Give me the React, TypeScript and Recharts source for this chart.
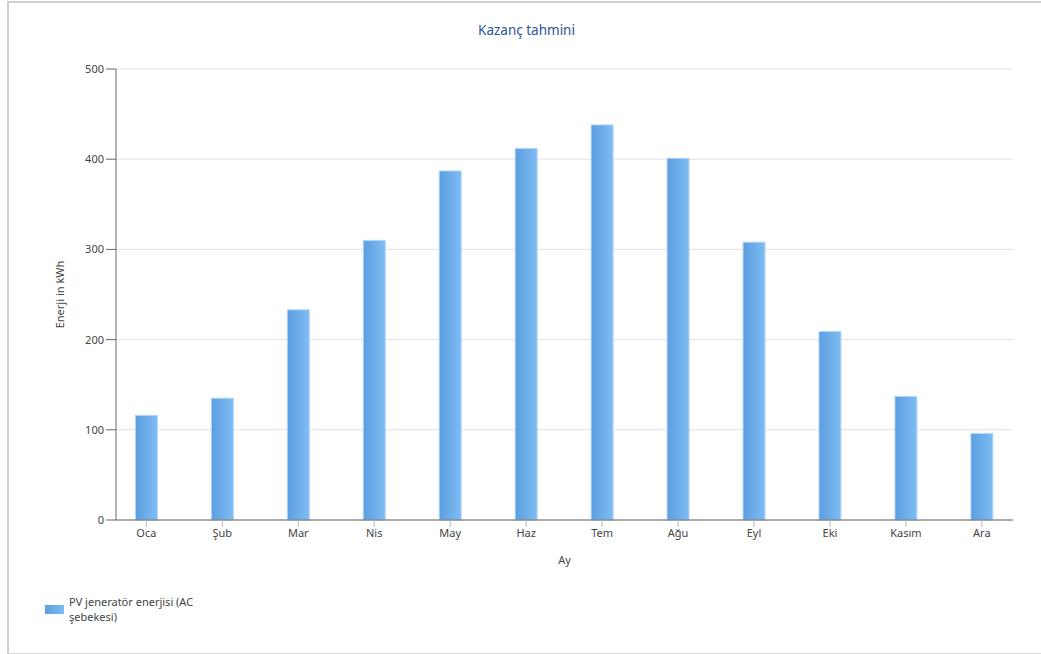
import { Bar, BarChart, CartesianGrid, Label, XAxis, YAxis } from "recharts";

const months = ["Oca", "Şub", "Mar", "Nis", "May", "Haz", "Tem", "Ağu", "Eyl", "Eki", "Kasım", "Ara"];
const energyKwh = [116, 135, 233, 310, 387, 412, 438, 401, 308, 209, 137, 96];
const yTicks = [0, 100, 200, 300, 400, 500];

const chartData = months.map((month, idx) => ({ idx, month, energy: energyKwh[idx] }));

const font = "'Noto Sans', 'DejaVu Sans', sans-serif";
const tickStyle = { fill: "#444", fontSize: 11, fontFamily: font };

export default function App() {
  return (
    <div style={{ position: "absolute", left: 0, top: 0, width: 1041, height: 654, background: "#fff" }}>
      <div
        style={{
          position: "absolute",
          left: 7,
          top: 1,
          width: 1040,
          height: 650,
          borderTop: "2px solid #cfcfcf",
          borderLeft: "2px solid #cfcfcf",
          borderBottom: "2px solid #d6d6d6",
        }}
      />
      <div
        style={{
          position: "absolute",
          left: 0,
          width: 1041,
          top: 21,
          textAlign: "center",
          fontFamily: font,
          fontSize: 13.5,
          color: "#2a5597",
          paddingLeft: 12,
          boxSizing: "border-box",
        }}
      >
        Kazanç tahmini
      </div>

      <div style={{ position: "absolute", left: 0, top: 0 }}>
        <BarChart width={1041} height={654} data={chartData} margin={{ top: 69, right: 28, bottom: 90, left: 56 }}>
          <defs>
            <linearGradient id="barGradient" x1="0" y1="0" x2="1" y2="0">
              <stop offset="0%" stopColor="#5b9ee0" />
              <stop offset="100%" stopColor="#7ebcf3" />
            </linearGradient>
          </defs>
          <CartesianGrid vertical={false} stroke="#e2e2e2" />
          <XAxis
            type="number"
            dataKey="idx"
            domain={[-0.4, 11.41]}
            ticks={months.map((_, i) => i)}
            tickFormatter={(v: number) => months[v] ?? ""}
            interval={0}
            tickSize={7}
            height={44}
            stroke="#666"
            tickLine={{ stroke: "#bbb" }}
            tick={tickStyle}
          >
            <Label value="Ay" position="insideBottom" offset={0} style={{ ...tickStyle, fill: "#444" }} />
          </XAxis>
          <YAxis
            domain={[0, 500]}
            ticks={yTicks}
            width={60}
            tickSize={10}
            stroke="#666"
            tick={tickStyle}
          >
            <Label
              value="Enerji in kWh"
              angle={-90}
              position="insideLeft"
              offset={4}
              style={{ ...tickStyle, textAnchor: "middle" }}
            />
          </YAxis>
          <Bar
            dataKey="energy"
            barSize={22}
            fill="url(#barGradient)"
            stroke="#b5d6f6"
            strokeWidth={1}
            isAnimationActive={false}
          />
        </BarChart>
      </div>

      <div style={{ position: "absolute", left: 45, top: 594, display: "flex", fontFamily: font, fontSize: 11, color: "#444" }}>
        <span
          style={{
            width: 19,
            height: 9,
            marginTop: 11,
            background: "linear-gradient(to right, #5b9ee0, #7ebcf3)",
            display: "inline-block",
          }}
        />
        <span style={{ marginLeft: 5, lineHeight: "15px" }}>
          PV jeneratör enerjisi (AC
          <br />
          şebekesi)
        </span>
      </div>
    </div>
  );
}
